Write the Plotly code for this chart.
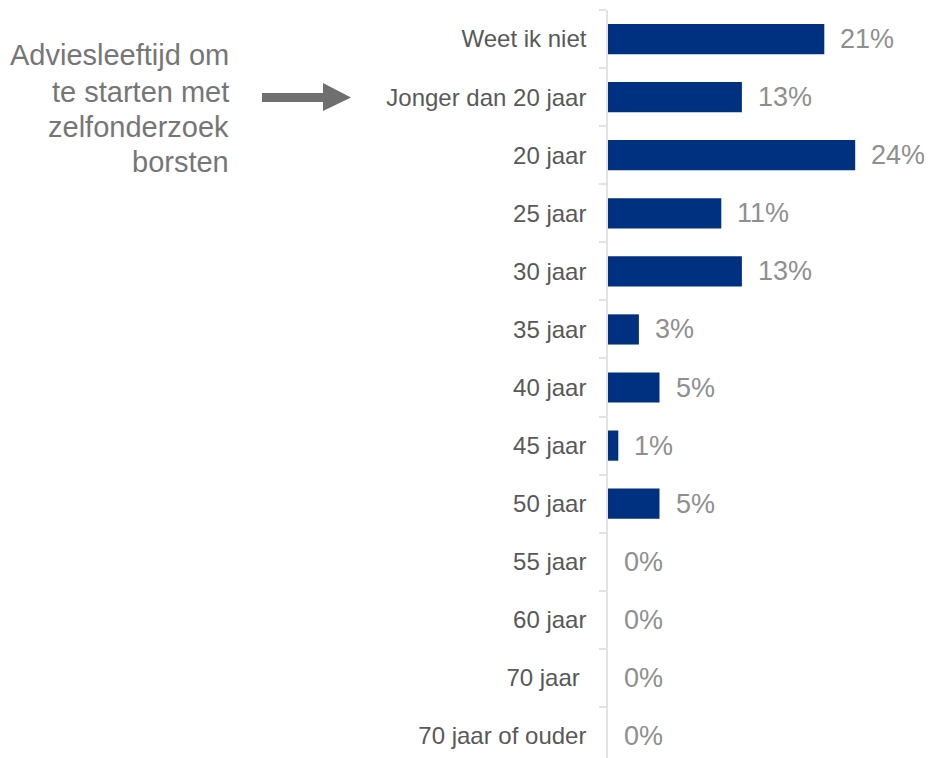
import plotly.graph_objects as go

categories = ["Weet ik niet", "Jonger dan 20 jaar", "20 jaar", "25 jaar", "30 jaar",
              "35 jaar", "40 jaar", "45 jaar", "50 jaar", "55 jaar", "60 jaar",
              "70 jaar\u00a0", "70 jaar of ouder"]
values = [21, 13, 24, 11, 13, 3, 5, 1, 5, 0, 0, 0, 0]
value_labels = ["21%", "13%", "24%", "11%", "13%", "3%", "5%", "1%", "5%", "0%", "0%", "0%", "0%"]
side_text = ["Adviesleeftijd om", "te starten met", "zelfonderzoek", "borsten"]

# the page body has an 8px default margin; compensate so screen coords match
OFF = 8
W, H = 932 - OFF, 758 - OFF
L, R, T, B = 608 - OFF, 15, 10 - OFF, 0
pw, ph = W - L - R, H - T - B
XMAX = 30.0


def px(x):
    return (x - OFF - L) / pw


def py(y):
    return (H - B - (y - OFF)) / ph


FONT = "Liberation Sans, Arial, sans-serif"

fig = go.Figure()
fig.add_trace(go.Bar(
    y=categories, x=values, orientation="h",
    marker=dict(color="#003080", line=dict(width=0)),
    width=0.52, hoverinfo="skip",
))

for c, v, t in zip(categories, values, value_labels):
    fig.add_annotation(x=v, y=c, xref="x", yref="y", text=t, showarrow=False,
                       xanchor="left", yanchor="middle", xshift=14,
                       font=dict(family=FONT, size=27, color="#8f8f8f"))

line_y = [55, 92, 127, 162]
for t, yy in zip(side_text, line_y):
    fig.add_annotation(x=px(231), y=py(yy), xref="paper", yref="paper", text=t,
                       showarrow=False, xanchor="right", yanchor="middle",
                       font=dict(family=FONT, size=29, color="#767676"))

arrow = [(262, 93), (323, 93), (323, 83), (351, 97.5), (323, 111), (323, 102), (262, 102)]
path = "M " + " L ".join(f"{px(a):.5f},{py(b):.5f}" for a, b in arrow) + " Z"
fig.add_shape(type="path", path=path, xref="paper", yref="paper",
              fillcolor="#6f6f6f", line=dict(width=0), layer="above")

n = len(categories)
fig.update_yaxes(
    type="category", categoryorder="array", categoryarray=categories,
    range=[n - 1 + (758 - 736) / 58.1, -0.5],
    showline=True, linecolor="#e3e3e3", linewidth=1.5,
    ticks="outside", tickson="boundaries", ticklen=7, tickcolor="#e3e3e3", tickwidth=1.5,
    ticklabelstandoff=15,
    tickfont=dict(family=FONT, size=24, color="#595959"),
    showgrid=False, zeroline=False,
)
fig.update_xaxes(range=[0, XMAX], visible=False, showgrid=False, zeroline=False)

fig.update_layout(
    width=W, height=H,
    margin=dict(l=L, r=R, t=T, b=B, autoexpand=False),
    plot_bgcolor="white", paper_bgcolor="white",
    showlegend=False, bargap=0.48,
)

fig.write_html("out.html")
